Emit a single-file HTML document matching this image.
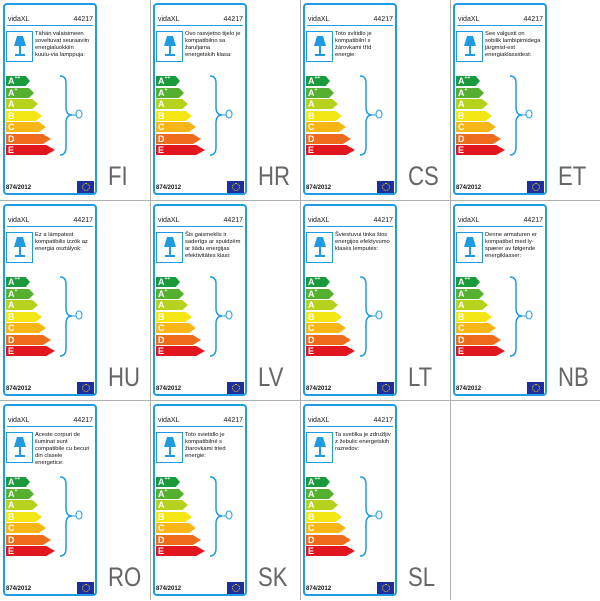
<!DOCTYPE html>
<html><head><meta charset="utf-8"><style>
body{margin:0;width:600px;height:600px;background:#fff;position:relative;overflow:hidden;font-family:"Liberation Sans",sans-serif}
.vl{position:absolute;top:0;width:1px;height:600px;background:#b0b0b0}
.hl{position:absolute;left:0;height:1px;width:600px;background:#b0b0b0}
.c{position:absolute;width:150px;height:200px}
.lb{position:absolute;left:3px;top:3px;width:90px;height:188px;border:2px solid #1e9be2;border-radius:4px}
.h1{position:absolute;left:8px;top:16px;font-size:7px;color:#222}
.h2{position:absolute;left:70px;top:16px;width:23px;text-align:right;font-size:7px;color:#222}
.ln{position:absolute;left:7px;top:25px;width:86px;height:1px;background:#1e9be2}
.lp{position:absolute;left:6px;top:31px;width:25px;height:29px;border:1px solid #1e9be2}
.sh{position:absolute;left:7px;top:4px;width:12px;height:10px;background:#1e9be2;clip-path:polygon(25% 0,75% 0,100% 100%,0 100%)}
.st{position:absolute;left:12px;top:14px;width:2px;height:9px;background:#1e9be2}
.bs{position:absolute;left:8px;top:22px;width:10px;height:2px;background:#1e9be2}
.d{position:absolute;left:35px;top:31px;width:56px;font-size:5.8px;line-height:7px;color:#111}
.a{position:absolute;left:6px;height:10px;clip-path:polygon(0 0,82% 0,100% 50%,82% 100%,0 100%);color:#fff;font-size:9px;line-height:10px;padding-left:2px;box-sizing:border-box;font-weight:bold}
.a sup{font-size:5px;vertical-align:top;line-height:5px}
.f{position:absolute;left:6px;top:185px;font-size:6px;font-weight:bold;color:#111}
.eu{position:absolute;left:77px;top:181px;width:17px;height:12px;background:#1c2f9c}
.eu::after{content:"";position:absolute;left:5px;top:2px;width:6px;height:6px;border:1px dotted #ffd800;border-radius:50%}
.cd{position:absolute;left:108px;top:161px;font-size:27px;color:#666;transform:scaleX(0.82);transform-origin:left top}
.br{position:absolute;left:58px;top:75px}
</style></head><body>
<div class="vl" style="left:150px"></div><div class="vl" style="left:300px"></div><div class="vl" style="left:450px"></div>
<div class="hl" style="top:200px"></div><div class="hl" style="top:400px"></div>

<div class="c" style="left:0;top:0"><div class="lb"></div><div class="h1">vidaXL</div><div class="h2">44217</div><div class="ln"></div><div class="lp"><div class="sh"></div><div class="st"></div><div class="bs"></div></div><div class="d">Tähän valaisimeen soveltuvat seuraaviin energialuokkiin kuulu-via lamppuja:</div>
<div class="a" style="top:76px;width:24px;background:#1a9a3a">A<sup>++</sup></div><div class="a" style="top:88px;width:28px;background:#55b030">A<sup>+</sup></div><div class="a" style="top:99px;width:32px;background:#b7d21c">A</div><div class="a" style="top:111px;width:36px;background:#f4e514">B</div><div class="a" style="top:122px;width:40px;background:#f7b516">C</div><div class="a" style="top:134px;width:45px;background:#ee6b1c">D</div><div class="a" style="top:145px;width:49px;background:#e2161e">E</div>
<svg class="br" width="30" height="82"><path d="M2 1 Q8 1 8 8 L8 32 Q8 40 14 40 Q8 40 8 48 L8 72 Q8 80 2 80" fill="none" stroke="#1e9be2" stroke-width="1.5"/><path d="M14 40 L18 40" stroke="#1e9be2"/><ellipse cx="21" cy="39" rx="3" ry="4" fill="none" stroke="#1e9be2" stroke-width="1"/></svg>
<div class="f">874/2012</div><div class="eu"></div><div class="cd">FI</div></div>

<div class="c" style="left:150px;top:0"><div class="lb"></div><div class="h1">vidaXL</div><div class="h2">44217</div><div class="ln"></div><div class="lp"><div class="sh"></div><div class="st"></div><div class="bs"></div></div><div class="d">Ovo rasvjetno tijelo je kompatibilno sa žaruljama energetskih klasa:</div>
<div class="a" style="top:76px;width:24px;background:#1a9a3a">A<sup>++</sup></div><div class="a" style="top:88px;width:28px;background:#55b030">A<sup>+</sup></div><div class="a" style="top:99px;width:32px;background:#b7d21c">A</div><div class="a" style="top:111px;width:36px;background:#f4e514">B</div><div class="a" style="top:122px;width:40px;background:#f7b516">C</div><div class="a" style="top:134px;width:45px;background:#ee6b1c">D</div><div class="a" style="top:145px;width:49px;background:#e2161e">E</div>
<svg class="br" width="30" height="82"><path d="M2 1 Q8 1 8 8 L8 32 Q8 40 14 40 Q8 40 8 48 L8 72 Q8 80 2 80" fill="none" stroke="#1e9be2" stroke-width="1.5"/><path d="M14 40 L18 40" stroke="#1e9be2"/><ellipse cx="21" cy="39" rx="3" ry="4" fill="none" stroke="#1e9be2" stroke-width="1"/></svg>
<div class="f">874/2012</div><div class="eu"></div><div class="cd">HR</div></div>

<div class="c" style="left:300px;top:0"><div class="lb"></div><div class="h1">vidaXL</div><div class="h2">44217</div><div class="ln"></div><div class="lp"><div class="sh"></div><div class="st"></div><div class="bs"></div></div><div class="d">Toto svítidlo je kompatibilní s žárovkami tříd energie:</div>
<div class="a" style="top:76px;width:24px;background:#1a9a3a">A<sup>++</sup></div><div class="a" style="top:88px;width:28px;background:#55b030">A<sup>+</sup></div><div class="a" style="top:99px;width:32px;background:#b7d21c">A</div><div class="a" style="top:111px;width:36px;background:#f4e514">B</div><div class="a" style="top:122px;width:40px;background:#f7b516">C</div><div class="a" style="top:134px;width:45px;background:#ee6b1c">D</div><div class="a" style="top:145px;width:49px;background:#e2161e">E</div>
<svg class="br" width="30" height="82"><path d="M2 1 Q8 1 8 8 L8 32 Q8 40 14 40 Q8 40 8 48 L8 72 Q8 80 2 80" fill="none" stroke="#1e9be2" stroke-width="1.5"/><path d="M14 40 L18 40" stroke="#1e9be2"/><ellipse cx="21" cy="39" rx="3" ry="4" fill="none" stroke="#1e9be2" stroke-width="1"/></svg>
<div class="f">874/2012</div><div class="eu"></div><div class="cd">CS</div></div>

<div class="c" style="left:450px;top:0"><div class="lb"></div><div class="h1">vidaXL</div><div class="h2">44217</div><div class="ln"></div><div class="lp"><div class="sh"></div><div class="st"></div><div class="bs"></div></div><div class="d">See valgusti on sobilik lambipirnidega järgmist-est energiaklassidest:</div>
<div class="a" style="top:76px;width:24px;background:#1a9a3a">A<sup>++</sup></div><div class="a" style="top:88px;width:28px;background:#55b030">A<sup>+</sup></div><div class="a" style="top:99px;width:32px;background:#b7d21c">A</div><div class="a" style="top:111px;width:36px;background:#f4e514">B</div><div class="a" style="top:122px;width:40px;background:#f7b516">C</div><div class="a" style="top:134px;width:45px;background:#ee6b1c">D</div><div class="a" style="top:145px;width:49px;background:#e2161e">E</div>
<svg class="br" width="30" height="82"><path d="M2 1 Q8 1 8 8 L8 32 Q8 40 14 40 Q8 40 8 48 L8 72 Q8 80 2 80" fill="none" stroke="#1e9be2" stroke-width="1.5"/><path d="M14 40 L18 40" stroke="#1e9be2"/><ellipse cx="21" cy="39" rx="3" ry="4" fill="none" stroke="#1e9be2" stroke-width="1"/></svg>
<div class="f">874/2012</div><div class="eu"></div><div class="cd">ET</div></div>

<div class="c" style="left:0;top:201px"><div class="lb"></div><div class="h1">vidaXL</div><div class="h2">44217</div><div class="ln"></div><div class="lp"><div class="sh"></div><div class="st"></div><div class="bs"></div></div><div class="d">Ez a lámpatest kompatibilis izzók az energia osztályok:</div>
<div class="a" style="top:76px;width:24px;background:#1a9a3a">A<sup>++</sup></div><div class="a" style="top:88px;width:28px;background:#55b030">A<sup>+</sup></div><div class="a" style="top:99px;width:32px;background:#b7d21c">A</div><div class="a" style="top:111px;width:36px;background:#f4e514">B</div><div class="a" style="top:122px;width:40px;background:#f7b516">C</div><div class="a" style="top:134px;width:45px;background:#ee6b1c">D</div><div class="a" style="top:145px;width:49px;background:#e2161e">E</div>
<svg class="br" width="30" height="82"><path d="M2 1 Q8 1 8 8 L8 32 Q8 40 14 40 Q8 40 8 48 L8 72 Q8 80 2 80" fill="none" stroke="#1e9be2" stroke-width="1.5"/><path d="M14 40 L18 40" stroke="#1e9be2"/><ellipse cx="21" cy="39" rx="3" ry="4" fill="none" stroke="#1e9be2" stroke-width="1"/></svg>
<div class="f">874/2012</div><div class="eu"></div><div class="cd">HU</div></div>

<div class="c" style="left:150px;top:201px"><div class="lb"></div><div class="h1">vidaXL</div><div class="h2">44217</div><div class="ln"></div><div class="lp"><div class="sh"></div><div class="st"></div><div class="bs"></div></div><div class="d">Šis gaismeklis ir saderīgs ar spuldzēm ar šādu energijas efektivitātes klasi:</div>
<div class="a" style="top:76px;width:24px;background:#1a9a3a">A<sup>++</sup></div><div class="a" style="top:88px;width:28px;background:#55b030">A<sup>+</sup></div><div class="a" style="top:99px;width:32px;background:#b7d21c">A</div><div class="a" style="top:111px;width:36px;background:#f4e514">B</div><div class="a" style="top:122px;width:40px;background:#f7b516">C</div><div class="a" style="top:134px;width:45px;background:#ee6b1c">D</div><div class="a" style="top:145px;width:49px;background:#e2161e">E</div>
<svg class="br" width="30" height="82"><path d="M2 1 Q8 1 8 8 L8 32 Q8 40 14 40 Q8 40 8 48 L8 72 Q8 80 2 80" fill="none" stroke="#1e9be2" stroke-width="1.5"/><path d="M14 40 L18 40" stroke="#1e9be2"/><ellipse cx="21" cy="39" rx="3" ry="4" fill="none" stroke="#1e9be2" stroke-width="1"/></svg>
<div class="f">874/2012</div><div class="eu"></div><div class="cd">LV</div></div>

<div class="c" style="left:300px;top:201px"><div class="lb"></div><div class="h1">vidaXL</div><div class="h2">44217</div><div class="ln"></div><div class="lp"><div class="sh"></div><div class="st"></div><div class="bs"></div></div><div class="d">Šviestuvui tinka šios energijos efektyvumo klasės lemputės:</div>
<div class="a" style="top:76px;width:24px;background:#1a9a3a">A<sup>++</sup></div><div class="a" style="top:88px;width:28px;background:#55b030">A<sup>+</sup></div><div class="a" style="top:99px;width:32px;background:#b7d21c">A</div><div class="a" style="top:111px;width:36px;background:#f4e514">B</div><div class="a" style="top:122px;width:40px;background:#f7b516">C</div><div class="a" style="top:134px;width:45px;background:#ee6b1c">D</div><div class="a" style="top:145px;width:49px;background:#e2161e">E</div>
<svg class="br" width="30" height="82"><path d="M2 1 Q8 1 8 8 L8 32 Q8 40 14 40 Q8 40 8 48 L8 72 Q8 80 2 80" fill="none" stroke="#1e9be2" stroke-width="1.5"/><path d="M14 40 L18 40" stroke="#1e9be2"/><ellipse cx="21" cy="39" rx="3" ry="4" fill="none" stroke="#1e9be2" stroke-width="1"/></svg>
<div class="f">874/2012</div><div class="eu"></div><div class="cd">LT</div></div>

<div class="c" style="left:450px;top:201px"><div class="lb"></div><div class="h1">vidaXL</div><div class="h2">44217</div><div class="ln"></div><div class="lp"><div class="sh"></div><div class="st"></div><div class="bs"></div></div><div class="d">Denne armaturen er kompatibel med ly-spærer av følgende energiklasser:</div>
<div class="a" style="top:76px;width:24px;background:#1a9a3a">A<sup>++</sup></div><div class="a" style="top:88px;width:28px;background:#55b030">A<sup>+</sup></div><div class="a" style="top:99px;width:32px;background:#b7d21c">A</div><div class="a" style="top:111px;width:36px;background:#f4e514">B</div><div class="a" style="top:122px;width:40px;background:#f7b516">C</div><div class="a" style="top:134px;width:45px;background:#ee6b1c">D</div><div class="a" style="top:145px;width:49px;background:#e2161e">E</div>
<svg class="br" width="30" height="82"><path d="M2 1 Q8 1 8 8 L8 32 Q8 40 14 40 Q8 40 8 48 L8 72 Q8 80 2 80" fill="none" stroke="#1e9be2" stroke-width="1.5"/><path d="M14 40 L18 40" stroke="#1e9be2"/><ellipse cx="21" cy="39" rx="3" ry="4" fill="none" stroke="#1e9be2" stroke-width="1"/></svg>
<div class="f">874/2012</div><div class="eu"></div><div class="cd">NB</div></div>

<div class="c" style="left:0;top:401px"><div class="lb"></div><div class="h1">vidaXL</div><div class="h2">44217</div><div class="ln"></div><div class="lp"><div class="sh"></div><div class="st"></div><div class="bs"></div></div><div class="d">Aceste corpuri de iluminat sunt compatibile cu becuri din clasele energetice:</div>
<div class="a" style="top:76px;width:24px;background:#1a9a3a">A<sup>++</sup></div><div class="a" style="top:88px;width:28px;background:#55b030">A<sup>+</sup></div><div class="a" style="top:99px;width:32px;background:#b7d21c">A</div><div class="a" style="top:111px;width:36px;background:#f4e514">B</div><div class="a" style="top:122px;width:40px;background:#f7b516">C</div><div class="a" style="top:134px;width:45px;background:#ee6b1c">D</div><div class="a" style="top:145px;width:49px;background:#e2161e">E</div>
<svg class="br" width="30" height="82"><path d="M2 1 Q8 1 8 8 L8 32 Q8 40 14 40 Q8 40 8 48 L8 72 Q8 80 2 80" fill="none" stroke="#1e9be2" stroke-width="1.5"/><path d="M14 40 L18 40" stroke="#1e9be2"/><ellipse cx="21" cy="39" rx="3" ry="4" fill="none" stroke="#1e9be2" stroke-width="1"/></svg>
<div class="f">874/2012</div><div class="eu"></div><div class="cd">RO</div></div>

<div class="c" style="left:150px;top:401px"><div class="lb"></div><div class="h1">vidaXL</div><div class="h2">44217</div><div class="ln"></div><div class="lp"><div class="sh"></div><div class="st"></div><div class="bs"></div></div><div class="d">Toto svietidlo je kompatibilné s žiarovkami tried energie:</div>
<div class="a" style="top:76px;width:24px;background:#1a9a3a">A<sup>++</sup></div><div class="a" style="top:88px;width:28px;background:#55b030">A<sup>+</sup></div><div class="a" style="top:99px;width:32px;background:#b7d21c">A</div><div class="a" style="top:111px;width:36px;background:#f4e514">B</div><div class="a" style="top:122px;width:40px;background:#f7b516">C</div><div class="a" style="top:134px;width:45px;background:#ee6b1c">D</div><div class="a" style="top:145px;width:49px;background:#e2161e">E</div>
<svg class="br" width="30" height="82"><path d="M2 1 Q8 1 8 8 L8 32 Q8 40 14 40 Q8 40 8 48 L8 72 Q8 80 2 80" fill="none" stroke="#1e9be2" stroke-width="1.5"/><path d="M14 40 L18 40" stroke="#1e9be2"/><ellipse cx="21" cy="39" rx="3" ry="4" fill="none" stroke="#1e9be2" stroke-width="1"/></svg>
<div class="f">874/2012</div><div class="eu"></div><div class="cd">SK</div></div>

<div class="c" style="left:300px;top:401px"><div class="lb"></div><div class="h1">vidaXL</div><div class="h2">44217</div><div class="ln"></div><div class="lp"><div class="sh"></div><div class="st"></div><div class="bs"></div></div><div class="d">Ta svetilka je združljiv z žebulic energetskih razredov:</div>
<div class="a" style="top:76px;width:24px;background:#1a9a3a">A<sup>++</sup></div><div class="a" style="top:88px;width:28px;background:#55b030">A<sup>+</sup></div><div class="a" style="top:99px;width:32px;background:#b7d21c">A</div><div class="a" style="top:111px;width:36px;background:#f4e514">B</div><div class="a" style="top:122px;width:40px;background:#f7b516">C</div><div class="a" style="top:134px;width:45px;background:#ee6b1c">D</div><div class="a" style="top:145px;width:49px;background:#e2161e">E</div>
<svg class="br" width="30" height="82"><path d="M2 1 Q8 1 8 8 L8 32 Q8 40 14 40 Q8 40 8 48 L8 72 Q8 80 2 80" fill="none" stroke="#1e9be2" stroke-width="1.5"/><path d="M14 40 L18 40" stroke="#1e9be2"/><ellipse cx="21" cy="39" rx="3" ry="4" fill="none" stroke="#1e9be2" stroke-width="1"/></svg>
<div class="f">874/2012</div><div class="eu"></div><div class="cd">SL</div></div>
</body></html>
